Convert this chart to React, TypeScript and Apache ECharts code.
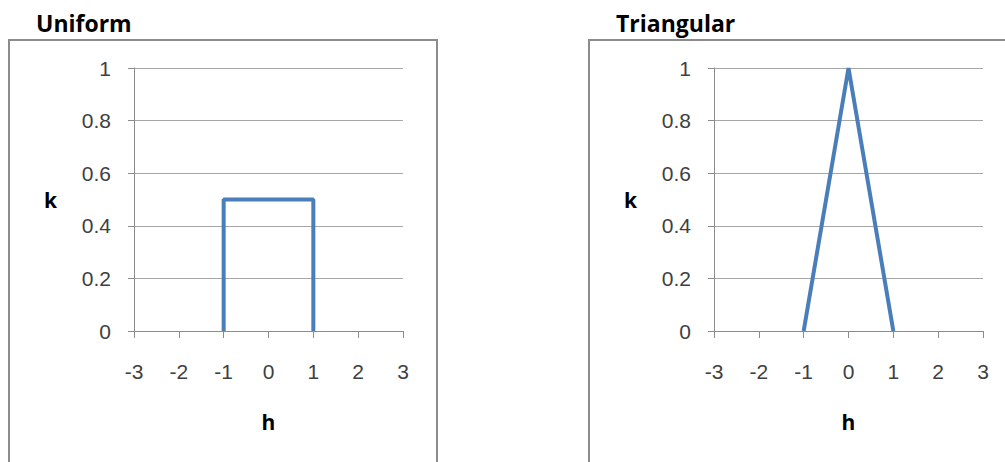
import React, { useEffect, useRef } from "react";
import * as echarts from "echarts";

const panelTitles = ["Uniform", "Triangular"];
const xTicks = [-3, -2, -1, 0, 1, 2, 3];
const yTicks = [0, 0.2, 0.4, 0.6, 0.8, 1];
const uniformH = [-1, -1, 1, 1];
const uniformK = [0, 0.5, 0.5, 0];
const triangularH = [-1, 0, 1];
const triangularK = [0, 1, 0];
const xName = "h";
const yName = "k";

const LINE_COLOR = "#4a7ebb";
const AXIS_GRAY = "#8c8c8c";
const LABEL_FONT = "Liberation Sans";

export default function App() {
  const ref = useRef<HTMLDivElement>(null);
  useEffect(() => {
    if (!ref.current) return;
    const chart = echarts.init(ref.current, undefined, { renderer: "svg" });
    const gridLefts = [134, 714];
    const grids = gridLefts.map((l) => ({ left: l, top: 68, width: 269, height: 263 }));
    const xAxes = gridLefts.map((_, i) => ({
      type: "value",
      gridIndex: i,
      min: xTicks[0],
      max: xTicks[xTicks.length - 1],
      interval: 1,
      name: xName,
      nameLocation: "middle",
      nameGap: 80,
      nameTextStyle: { fontFamily: "Open Sans", fontWeight: "bold", fontSize: 21, color: "#000" },
      axisLine: { show: true, onZero: false, lineStyle: { color: AXIS_GRAY, width: 1 } },
      axisTick: { show: true, length: 7, lineStyle: { color: AXIS_GRAY } },
      axisLabel: { fontFamily: LABEL_FONT, fontSize: 21, color: "#404040", margin: 30 },
      splitLine: { show: false },
    }));
    const yAxes = gridLefts.map((_, i) => ({
      type: "value",
      gridIndex: i,
      min: yTicks[0],
      max: yTicks[yTicks.length - 1],
      interval: 0.2,
      name: yName,
      nameLocation: "middle",
      nameRotate: 0,
      nameGap: 77,
      nameTextStyle: { fontFamily: "Open Sans", fontWeight: "bold", fontSize: 21, color: "#000" },
      axisLine: { show: true, onZero: false, lineStyle: { color: AXIS_GRAY, width: 1 } },
      axisTick: { show: true, length: 6, lineStyle: { color: AXIS_GRAY } },
      axisLabel: { fontFamily: LABEL_FONT, fontSize: 21, color: "#404040", margin: 23 },
      splitLine: { show: true, lineStyle: { color: "#a6a6a6", width: 1 } },
    }));
    const titleStyle = { fontFamily: "Open Sans", fontWeight: "bold", fontSize: 23, fill: "#000", verticalAlign: "middle" };
    const option = {
      animation: false,
      backgroundColor: "#ffffff",
      grid: grids,
      xAxis: xAxes,
      yAxis: yAxes,
      graphic: [
        { type: "rect", shape: { x: 9, y: 40, width: 428, height: 440 }, style: { fill: "none", stroke: AXIS_GRAY, lineWidth: 2 }, z: -1 },
        { type: "rect", shape: { x: 589, y: 40, width: 440, height: 440 }, style: { fill: "none", stroke: AXIS_GRAY, lineWidth: 2 }, z: -1 },
        { type: "text", x: 36, y: 23, style: { text: panelTitles[0], ...titleStyle } },
        { type: "text", x: 616, y: 23, style: { text: panelTitles[1], ...titleStyle } },
      ],
      series: [
        {
          type: "line",
          xAxisIndex: 0,
          yAxisIndex: 0,
          data: uniformH.map((h, i) => [h, uniformK[i]]),
          symbol: "none",
          lineStyle: { color: LINE_COLOR, width: 4 },
          itemStyle: { color: LINE_COLOR },
        },
        {
          type: "line",
          xAxisIndex: 1,
          yAxisIndex: 1,
          data: triangularH.map((h, i) => [h, triangularK[i]]),
          symbol: "none",
          lineStyle: { color: LINE_COLOR, width: 4 },
          itemStyle: { color: LINE_COLOR },
        },
      ],
    };
    chart.setOption(option as any);
    return () => chart.dispose();
  }, []);
  return (
    <div
      ref={ref}
      style={{ position: "absolute", left: 0, top: 0, width: 1005, height: 462 }}
    />
  );
}
